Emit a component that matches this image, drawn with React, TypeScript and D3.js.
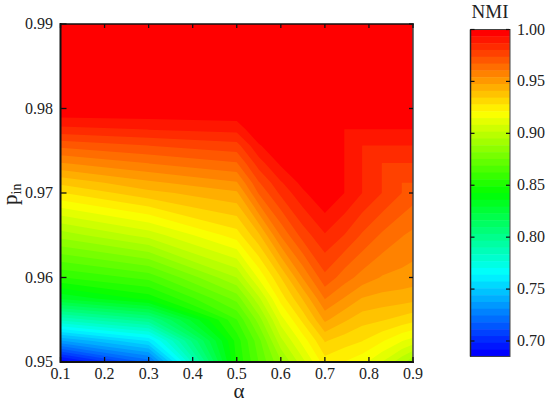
import React from "react";
import * as d3 from "d3";

const alphaColumns = [0.1, 0.3, 0.5, 0.55, 0.6, 0.65, 0.7, 0.745, 0.785, 0.83, 0.875, 0.9];
const pinRows = [0.95, 0.9525, 0.955, 0.9575, 0.96, 0.965, 0.97, 0.9712, 0.9735, 0.9756, 0.9775, 0.98, 0.99];

// NMI; each array is one alpha column, from p_in = 0.95 upward
const nmiA010 = [0.686, 0.737, 0.785, 0.83, 0.8554, 0.8913, 0.9274, 0.936, 0.9534, 0.969, 0.9847, 1, 1];
const nmiA030 = [0.72, 0.758, 0.801, 0.845, 0.8645, 0.9043, 0.9388, 0.946, 0.9606, 0.9737, 0.9869, 1, 1];
const nmiA050 = [0.85, 0.852, 0.862, 0.878, 0.895, 0.9246, 0.9462, 0.9534, 0.9665, 0.9777, 0.9889, 1, 1];
const nmiA055 = [0.869, 0.873, 0.885, 0.9, 0.916, 0.9397, 0.9679, 0.9731, 0.9836, 0.9925, 1, 1, 1];
const nmiA060 = [0.8875, 0.8996, 0.9116, 0.9242, 0.9344, 0.9613, 0.9819, 0.986, 0.9947, 1, 1, 1, 1];
const nmiA065 = [0.906, 0.9175, 0.9298, 0.9416, 0.9547, 0.9767, 0.992, 0.9957, 1, 1, 1, 1, 1];
const nmiA070 = [0.925, 0.935, 0.949, 0.961, 0.972, 0.9862, 1, 1, 1, 1, 1, 1, 1];
const nmiA0745 = [0.921, 0.931, 0.942, 0.9534, 0.9636, 0.98, 0.9933, 0.9933, 0.9933, 0.9933, 0.9933, 1, 1];
const nmiA0785 = [0.917, 0.928, 0.937, 0.947, 0.958, 0.9728, 0.9868, 0.9868, 0.9868, 0.9868, 0.9933, 1, 1];
const nmiA083 = [0.908, 0.922, 0.935, 0.945, 0.9535, 0.966, 0.9802, 0.9802, 0.9802, 0.9868, 0.9933, 1, 1];
const nmiA0875 = [0.897, 0.915, 0.932, 0.944, 0.952, 0.961, 0.9737, 0.9737, 0.9802, 0.9868, 0.9933, 1, 1];
const nmiA090 = [0.89, 0.912, 0.93, 0.943, 0.951, 0.959, 0.9705, 0.9737, 0.9802, 0.9868, 0.9933, 1, 1];
const nmiColumns = [nmiA010, nmiA030, nmiA050, nmiA055, nmiA060, nmiA065, nmiA070, nmiA0745, nmiA0785, nmiA083, nmiA0875, nmiA090];

const xTicks = [0.1, 0.2, 0.3, 0.4, 0.5, 0.6, 0.7, 0.8, 0.9];
const yTicks = [0.95, 0.96, 0.97, 0.98, 0.99];
const barTicks = [0.7, 0.75, 0.8, 0.85, 0.9, 0.95, 1.0];
const levelStep = 0.00656;
const levelCount = 48;
const rampStops = ["#0000ff", "#00ffff", "#00ff00", "#ffff00", "#ff0000"];

const FONT = "'Liberation Serif', serif";
const INK = "#222";

const x = d3.scaleLinear().domain([0.1, 0.9]).range([60.5, 413]);
const y = d3.scaleLinear().domain([0.95, 0.99]).range([362, 24]);
const barY = d3.scaleLinear().domain([1.0, 0.7]).range([29.5, 341]);

const ramp = d3
  .scaleLinear<string>()
  .domain(d3.range(rampStops.length).map((i) => i / (rampStops.length - 1)))
  .range(rampStops)
  .interpolate(d3.interpolateRgb);

const bandColor = (k: number) => ramp(1 - k / (levelCount - 1));
const level = (k: number) => 1 - k * levelStep;

const colIndex = d3.scaleLinear().domain(d3.range(alphaColumns.length)).range(alphaColumns);
const rowIndex = d3.scaleLinear().domain(d3.range(pinRows.length)).range(pinRows);

// one repeated column / row round the grid keeps the border of the plot free of closing edges
const nCols = alphaColumns.length;
const nRows = pinRows.length;
const W = nCols + 2;
const H = nRows + 2;
const paddedValues: number[] = [];
for (let r = -1; r <= nRows; r++) {
  for (let c = -1; c <= nCols; c++) {
    const rr = Math.min(nRows - 1, Math.max(0, r));
    const cc = Math.min(nCols - 1, Math.max(0, c));
    paddedValues.push(nmiColumns[cc][rr]);
  }
}

const contourGen = d3.contours().size([W, H]).smooth(true);

function ringsToPath(geom: d3.ContourMultiPolygon) {
  const mapPt = (p: number[]) => {
    const px = x(colIndex(p[0] - 1.5));
    const py = y(rowIndex(p[1] - 1.5));
    return `${px.toFixed(2)},${py.toFixed(2)}`;
  };
  return geom.coordinates
    .map((poly) => poly.map((ring) => "M" + ring.map(mapPt).join("L") + "Z").join(""))
    .join("");
}

export default function App() {
  const bands = d3.range(levelCount - 1, 0, -1).map((k) => ({
    k,
    d: ringsToPath(contourGen.contour(paddedValues, level(k))),
  }));
  const barBands = d3.range(levelCount);

  const px0 = x(0.1);
  const px1 = x(0.9);
  const py0 = y(0.95);
  const py1 = y(0.99);
  const barL = 470.5;
  const barR = 510;
  const barBottom = barY(level(levelCount));

  return (
    <svg
      width={550}
      height={405}
      style={{ position: "absolute", left: 0, top: 0, background: "#fff" }}
      fontFamily={FONT}
      fill={INK}
    >
      <defs>
        <clipPath id="plotClip">
          <rect x={px0} y={py1} width={px1 - px0} height={py0 - py1} />
        </clipPath>
      </defs>

      <g clipPath="url(#plotClip)">
        <rect x={px0} y={py1} width={px1 - px0} height={py0 - py1} fill={bandColor(levelCount - 1)} />
        {bands.map((b) => (
          <path key={b.k} d={b.d} fill={bandColor(b.k - 1)} fillRule="evenodd" stroke="none" />
        ))}
      </g>

      {/* plot frame */}
      <line x1={px0} x2={px0} y1={py1 - 1} y2={py0 + 1} stroke="#111" strokeWidth={2} />
      <line x1={px0} x2={px1 + 1} y1={py0} y2={py0} stroke="#111" strokeWidth={2} />
      <line x1={px0} x2={px1 + 1} y1={py1} y2={py1} stroke="#111" strokeWidth={1.5} />
      <line x1={px1} x2={px1} y1={py1} y2={py0} stroke="#444" strokeWidth={1.5} />

      {xTicks.map((t) => (
        <g key={t}>
          <line x1={x(t)} x2={x(t)} y1={py0} y2={py0 - 5} stroke="#111" strokeWidth={1.3} />
          <line x1={x(t)} x2={x(t)} y1={py1} y2={py1 + 4} stroke="#111" strokeWidth={1.3} />
          <text x={x(t)} y={379} fontSize={16} textAnchor="middle">
            {t.toFixed(1)}
          </text>
        </g>
      ))}
      {yTicks.map((t) => (
        <g key={t}>
          <line x1={px0} x2={px0 + 6} y1={y(t)} y2={y(t)} stroke="#111" strokeWidth={1.3} />
          <line x1={px1} x2={px1 - 4} y1={y(t)} y2={y(t)} stroke="#111" strokeWidth={1.3} />
          <text x={53} y={y(t) + 5} fontSize={16} textAnchor="end">
            {t.toFixed(2)}
          </text>
        </g>
      ))}

      <text x={239} y={398} fontSize={21} textAnchor="middle">
        α
      </text>
      <text transform="translate(17,205) rotate(-90)" fontSize={21}>
        p
        <tspan fontSize={14} dy={4}>
          in
        </tspan>
      </text>

      {/* colour bar */}
      {barBands.map((k) => (
        <rect
          key={k}
          x={barL}
          width={barR - barL}
          y={barY(level(k))}
          height={barY(level(k + 1)) - barY(level(k)) + 0.5}
          fill={bandColor(k)}
        />
      ))}
      <rect x={barL} y={barY(1)} width={barR - barL} height={barBottom - barY(1)} fill="none" stroke="#444" strokeWidth={1} />
      <line x1={barL} x2={barL} y1={barY(1)} y2={barBottom} stroke="#222" strokeWidth={1.5} />
      {barTicks.map((t) => (
        <g key={t}>
          <line x1={barL} x2={barL + 4} y1={barY(t)} y2={barY(t)} stroke="#111" strokeWidth={1.2} />
          <line x1={barR} x2={barR - 4} y1={barY(t)} y2={barY(t)} stroke="#111" strokeWidth={1.2} />
          <text x={517} y={barY(t) + 5} fontSize={16}>
            {t.toFixed(2)}
          </text>
        </g>
      ))}
      <text x={490} y={18} fontSize={19} textAnchor="middle">
        NMI
      </text>
    </svg>
  );
}
